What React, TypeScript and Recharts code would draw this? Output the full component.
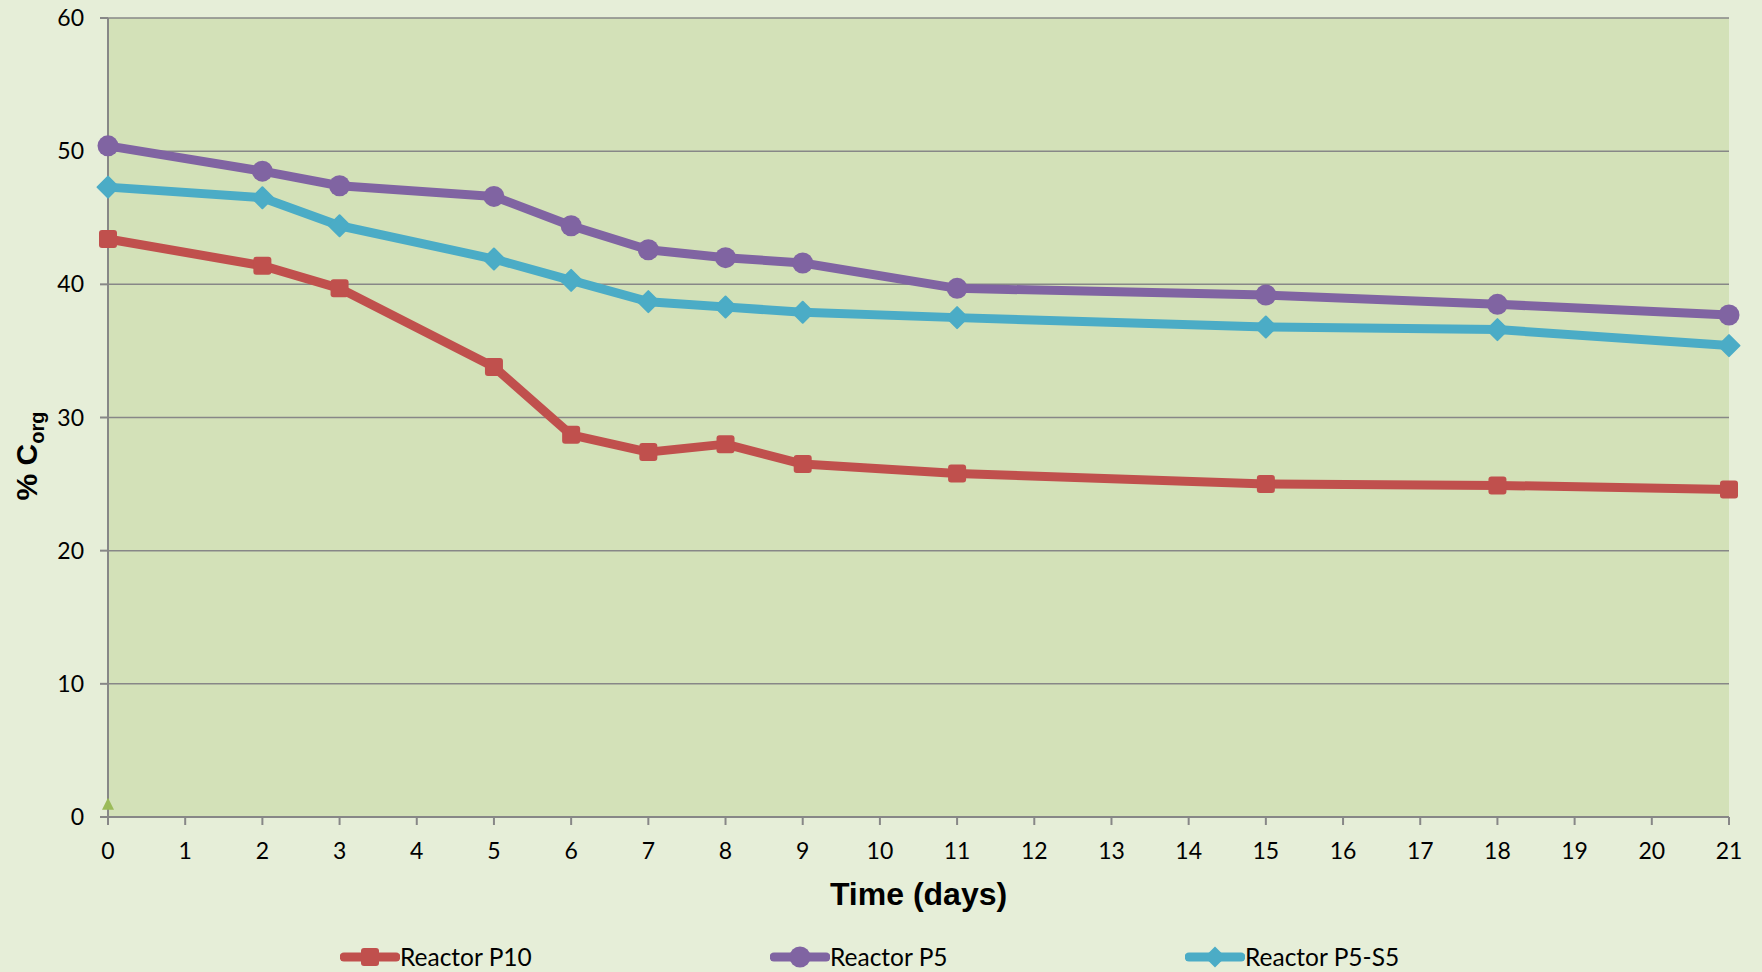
import React from 'react';
import { LineChart, Line, XAxis, YAxis, CartesianGrid, Legend } from 'recharts';

const days = [0, 2, 3, 5, 6, 7, 8, 9, 11, 15, 18, 21];
const reactorP10 = [43.4, 41.4, 39.7, 33.8, 28.7, 27.4, 28.0, 26.5, 25.8, 25.0, 24.9, 24.6];
const reactorP5 = [50.4, 48.5, 47.4, 46.6, 44.4, 42.6, 42.0, 41.6, 39.7, 39.2, 38.5, 37.7];
const reactorP5S5 = [47.3, 46.5, 44.4, 41.9, 40.3, 38.7, 38.3, 37.9, 37.5, 36.8, 36.6, 35.4];
// stray marker at day 0 in the original
const baseMarker = [1, null, null, null, null, null, null, null, null, null, null, null];

const xTicks = [0, 1, 2, 3, 4, 5, 6, 7, 8, 9, 10, 11, 12, 13, 14, 15, 16, 17, 18, 19, 20, 21];
const yTicks = [0, 10, 20, 30, 40, 50, 60];

const RED = '#C0504D';
const PURPLE = '#8064A2';
const CYAN = '#4BACC6';
const GREEN = '#9BBB59';
const AXIS = '#878787';

const data = days.map((d, i) => ({
  day: d,
  p10: reactorP10[i],
  p5: reactorP5[i],
  p5s5: reactorP5S5[i],
  marker: baseMarker[i],
}));

const SquareDot = (props: any) => {
  const { cx, cy, index } = props;
  if (cy == null || cx == null) return <g key={`sq-${index}`} />;
  return <rect key={`sq-${index}`} x={cx - 9} y={cy - 9} width={18} height={18} rx={3} fill={RED} />;
};

const CircleDot = (props: any) => {
  const { cx, cy, index } = props;
  if (cy == null || cx == null) return <g key={`ci-${index}`} />;
  return <circle key={`ci-${index}`} cx={cx} cy={cy} r={10.5} fill={PURPLE} />;
};

const DiamondDot = (props: any) => {
  const { cx, cy, index } = props;
  if (cy == null || cx == null) return <g key={`di-${index}`} />;
  const s = 10.5;
  return (
    <polygon
      key={`di-${index}`}
      points={`${cx},${cy - s} ${cx + s},${cy} ${cx},${cy + s} ${cx - s},${cy}`}
      fill={CYAN}
      stroke={CYAN}
      strokeWidth={2}
      strokeLinejoin="round"
    />
  );
};

const TriangleDot = (props: any) => {
  const { cx, cy, index } = props;
  if (cy == null || cx == null) return <g key={`tr-${index}`} />;
  return <polygon key={`tr-${index}`} points={`${cx},${cy - 6} ${cx + 6},${cy + 6} ${cx - 6},${cy + 6}`} fill={GREEN} />;
};

const legendItems = [
  { name: 'Reactor P10', color: RED, shape: 'square', left: 340 },
  { name: 'Reactor P5', color: PURPLE, shape: 'circle', left: 770 },
  { name: 'Reactor P5-S5', color: CYAN, shape: 'diamond', left: 1185 },
];

const LegendIcon = ({ color, shape }: { color: string; shape: string }) => (
  <svg width={60} height={24} style={{ display: 'block' }}>
    <line x1={4} y1={12} x2={56} y2={12} stroke={color} strokeWidth={9} strokeLinecap="round" />
    {shape === 'square' && <rect x={21} y={3} width={18} height={18} rx={3} fill={color} />}
    {shape === 'circle' && <circle cx={30} cy={12} r={10.5} fill={color} />}
    {shape === 'diamond' && <polygon points="30,1.5 40.5,12 30,22.5 19.5,12" fill={color} />}
  </svg>
);

const renderLegend = () => (
  <div style={{ position: 'relative', height: 30, width: 1729 }}>
    {legendItems.map((item) => (
      <div
        key={item.name}
        style={{ position: 'absolute', left: item.left, top: 3, display: 'flex', alignItems: 'center' }}
      >
        <LegendIcon color={item.color} shape={item.shape} />
        <span style={{ fontFamily: 'Lato', fontSize: 24.5, color: '#000', lineHeight: '24px' }}>{item.name}</span>
      </div>
    ))}
  </div>
);

const XTitle = ({ viewBox }: any) => {
  const { x, y, width } = viewBox;
  return (
    <text x={x + width / 2} y={y + 88} textAnchor="middle" fontFamily="Liberation Sans" fontWeight="bold" fontSize={32} fill="#000">
      Time (days)
    </text>
  );
};

const YTitle = () => (
  <text
    x={37}
    y={456}
    transform="rotate(-90, 37, 456)"
    textAnchor="middle"
    fontFamily="Liberation Sans"
    fontWeight="bold"
    fontSize={30}
    fill="#000"
  >
    % C
    <tspan fontSize={20} dy={7}>org</tspan>
  </text>
);

const App: React.FC = () => {
  const tickStyle = { fill: '#000', fontSize: 23, fontFamily: 'Lato' };
  return (
    <div style={{ position: 'absolute', left: 0, top: 0, width: 1762, height: 972, background: '#E6EED8' }}>
      <LineChart width={1762} height={972} data={data} margin={{ top: 18, right: 33, left: 0, bottom: 0 }}>
        <CartesianGrid vertical={false} stroke={AXIS} strokeWidth={1.5} fill="#D3E1B8" fillOpacity={1} />
        <XAxis
          dataKey="day"
          type="number"
          domain={[0, 21]}
          ticks={xTicks}
          interval={0}
          height={125}
          tickSize={8}
          tickMargin={18}
          stroke={AXIS}
          strokeWidth={2}
          tick={tickStyle}
          label={<XTitle />}
        />
        <YAxis
          domain={[0, 60]}
          ticks={yTicks}
          interval={0}
          width={108}
          tickSize={8}
          tickMargin={16}
          stroke={AXIS}
          strokeWidth={2}
          tick={tickStyle}
          label={<YTitle />}
        />
        <Legend verticalAlign="bottom" content={renderLegend} />
        <Line
          dataKey="p10"
          name="Reactor P10"
          stroke={RED}
          strokeWidth={9}
          strokeLinejoin="round"
          dot={SquareDot}
          activeDot={false}
          isAnimationActive={false}
        />
        <Line
          dataKey="p5"
          name="Reactor P5"
          stroke={PURPLE}
          strokeWidth={9}
          strokeLinejoin="round"
          dot={CircleDot}
          activeDot={false}
          isAnimationActive={false}
        />
        <Line
          dataKey="p5s5"
          name="Reactor P5-S5"
          stroke={CYAN}
          strokeWidth={9}
          strokeLinejoin="round"
          dot={DiamondDot}
          activeDot={false}
          isAnimationActive={false}
        />
        <Line
          dataKey="marker"
          stroke="none"
          legendType="none"
          dot={TriangleDot}
          activeDot={false}
          isAnimationActive={false}
        />
      </LineChart>
    </div>
  );
};

export default App;
